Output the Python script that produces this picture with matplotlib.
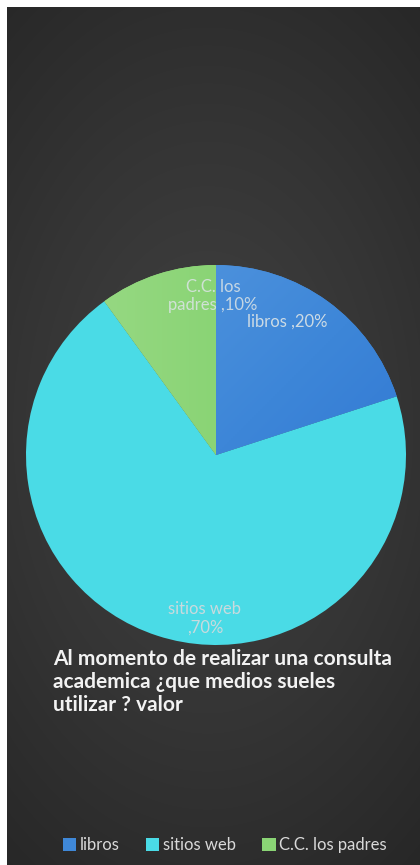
import matplotlib.pyplot as plt
import numpy as np
from matplotlib.colors import LinearSegmentedColormap

# datos del grafico
categorias = ['libros', 'sitios web', 'C.C. los padres']
valores = [20, 70, 10]
etiquetas = ['libros ,20%', 'sitios web\n,70%', 'C.C. los\npadres ,10%']
titulo = 'Al momento de realizar una consulta\nacademica ¿que medios sueles\nutilizar ? valor'
colores = ['#3f88d8', '#4adbe6', '#8ad475']

W, H = 420, 865
plt.rcParams['font.family'] = ['Lato', 'DejaVu Sans']

fig = plt.figure(figsize=(W / 100, H / 100), dpi=100)
fig.patch.set_facecolor('white')
ax = fig.add_axes([0, 0, 1, 1])

# fondo oscuro con degradado radial
yy, xx = np.mgrid[0:H - 7, 0:W - 7]
d = np.sqrt(((xx - 200) / 330) ** 2 + ((yy - 420) / 520) ** 2)
fondo = LinearSegmentedColormap.from_list('f', ['#424242', '#353535', '#262626'])
ax.imshow(d, cmap=fondo, vmin=0, vmax=1.1, extent=(7, W, 0, H - 7),
          origin='upper', zorder=0, aspect='auto')

# pastel
cx, cy, R = 216, H - 455, 190
wedges, _ = ax.pie(valores, colors=colores, startangle=90, counterclock=False,
                   center=(cx, cy), radius=R, frame=True,
                   wedgeprops=dict(linewidth=0))
ax.set_xlim(0, W)
ax.set_ylim(0, H)
ax.axis('off')

# degradado en libros y C.C.
gx, gy = np.meshgrid(np.linspace(0, 1, 200), np.linspace(0, 1, 200))
azul = LinearSegmentedColormap.from_list('a', ['#5a9be0', '#3d86d8', '#2a6fd0'])
verde = LinearSegmentedColormap.from_list('v', ['#9ddb8a', '#8ad475', '#7ccd66'])
ext = (cx - R, cx + R, cy - R, cy + R)
im1 = ax.imshow((gx + gy) / 2, cmap=azul, extent=ext, origin='upper', zorder=2, aspect='auto')
im1.set_clip_path(wedges[0])
im2 = ax.imshow(gx, cmap=verde, extent=ext, origin='lower', zorder=2, aspect='auto')
im2.set_clip_path(wedges[2])

col_lab = '#dce4e6'
ax.text(287, H - 322, etiquetas[0], color=col_lab, fontsize=12, ha='center', va='center',
        zorder=5, alpha=0.9)
ax.text(205, H - 618, etiquetas[1], color='#c9dadd', fontsize=12, ha='center', va='center',
        zorder=5, linespacing=1.2)
ax.text(213, H - 296, etiquetas[2], color=col_lab, fontsize=12, ha='center', va='center',
        zorder=5, linespacing=1.2, alpha=0.85)

# titulo
ax.text(53, H - 649, titulo, color='#f2f2f2', fontsize=15, fontweight='bold',
        ha='left', va='top', linespacing=1.2, zorder=5)

# leyenda
leg = ax.legend(wedges, categorias, loc='center', bbox_to_anchor=(0.535, 20 / H),
                ncol=3, frameon=False, fontsize=12, labelcolor='#d9d9d9',
                handlelength=0.8, handleheight=0.8, handletextpad=0.2, columnspacing=1.6)

fig.savefig('out.png', dpi=100, facecolor=fig.get_facecolor())
